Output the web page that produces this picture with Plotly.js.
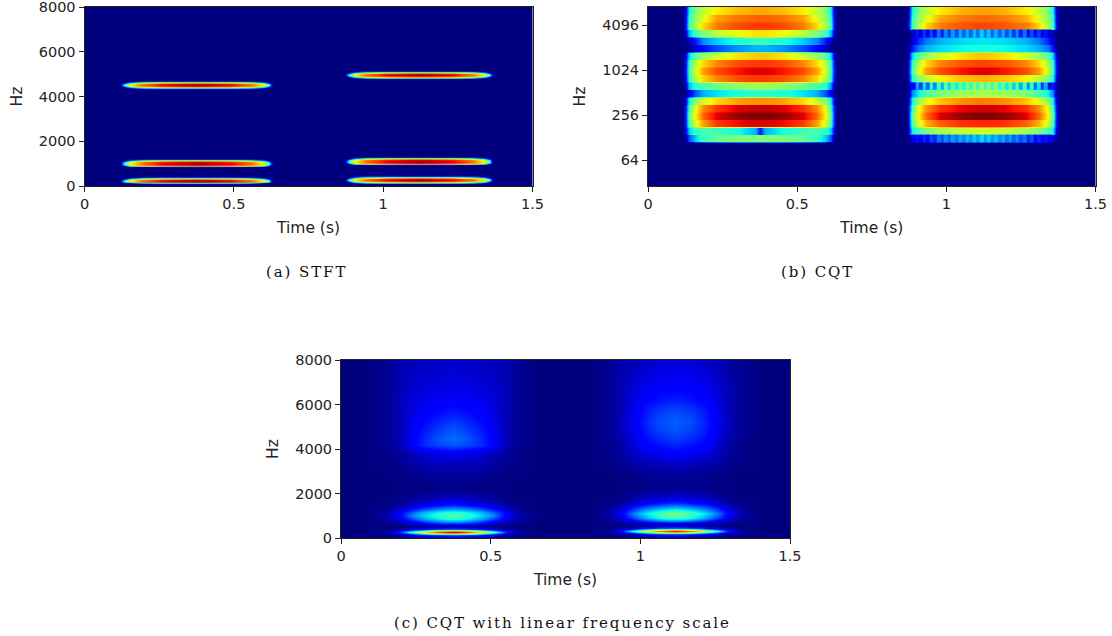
<!DOCTYPE html>
<html>
<head>
<meta charset="utf-8">
<script src="https://cdn.plot.ly/plotly-3.0.1.min.js"></script>
<style>
body { margin: 0; background: #fff; }
.annotation-text { letter-spacing: 1.9px; }
</style>
</head>
<body>
<div id="chart"></div>
<script>
// matplotlib jet, plotly's own Jet is a different ramp
var jet = [[0, '#00007f'], [0.11, '#0000ff'], [0.125, '#0000ff'], [0.35, 'rgb(0,230,247)'],
  [0.375, 'rgb(20,255,226)'], [0.64, 'rgb(238,255,8)'], [0.66, 'rgb(255,236,0)'],
  [0.89, 'rgb(255,19,0)'], [0.91, 'rgb(232,0,0)'], [1, '#7f0000']];

var mirror = function (r) { return r.concat(r.slice(0, -1).reverse()); };
var twice = function (rows) { var o = []; rows.forEach(function (r) { o.push(r, r); }); return o; };

var timeTicks = [0, 0.5, 1, 1.5];
var timeLabels = ['0', '0.5', '1', '1.5'];
var linearTicks = [0, 2000, 4000, 6000, 8000];
var logTicks = [64, 256, 1024, 4096];
var logLabels = ['64', '256', '1024', '4096'];

// (a) STFT, half a burst from the onset to the middle, rows from band edge to band peak
var stftTimeA = [0.118, 0.125, 0.133, 0.15, 0.19, 0.26, 0.375, 0.49, 0.56, 0.6, 0.617, 0.625, 0.632];
var stftTimeB = [0.87, 0.877, 0.885, 0.902, 0.94, 1.01, 1.12, 1.23, 1.30, 1.338, 1.355, 1.363, 1.37];
var stftHzA = [69, 89, 124, 164, 209, 254, 299, 344, 384, 419, 439,
  820, 840, 875, 915, 960, 1015, 1070, 1115, 1155, 1190, 1210,
  4323, 4343, 4378, 4418, 4463, 4508, 4553, 4598, 4638, 4673, 4693];
var stftHzB = [97, 117, 152, 192, 237, 282, 327, 372, 412, 447, 467,
  910, 930, 965, 1005, 1050, 1105, 1160, 1205, 1245, 1280, 1300,
  4770, 4790, 4825, 4865, 4910, 4955, 5000, 5045, 5085, 5120, 5140];
var s0 = mirror([0, 0, 0, 0, 0, 0, 0]);
var s1 = mirror([0, 0, 0, 0, 0.05, 0.11, 0.13]);
var s2 = mirror([0, 0, 0, 0.14, 0.32, 0.4, 0.42]);
var s3 = mirror([0, 0, 0.12, 0.38, 0.6, 0.7, 0.74]);
var s4 = mirror([0, 0.12, 0.36, 0.6, 0.77, 0.88, 0.93]);
var s5 = mirror([0, 0.2, 0.48, 0.66, 0.8, 0.92, 0.98]);
var stftLevels = [s0, s1, s2, s3, s4, s5, s4, s3, s2, s1, s0,
  s0, s1, s2, s3, s4, s5, s4, s3, s2, s1, s0,
  s0, s1, s2, s3, s4, s5, s4, s3, s2, s1, s0];

// (b) CQT, third-octave rows listed from the bottom up, each row held flat over its height
var cqtTimeA = [0.118, 0.128, 0.138, 0.155, 0.185, 0.23, 0.30, 0.36, 0.375, 0.39, 0.45, 0.52, 0.565, 0.595, 0.612, 0.622, 0.632];
var cqtTimeB = [0.866, 0.876, 0.886, 0.903, 0.933, 0.978, 1.048, 1.108, 1.12, 1.135, 1.195, 1.265, 1.31, 1.34, 1.357, 1.367, 1.377];
var cqtHz = [110, 114, 138, 143, 174, 181, 219, 227, 275, 287, 347, 361, 437, 455, 550, 572, 693,
  721, 874, 909, 1101, 1145, 1387, 1443, 1748, 1819, 2202, 2291, 2775, 2887, 3495,
  3636, 4404, 4582, 5549, 5773, 6991, 7200];
var cqtFloor = [0, 0, 0, 0, 0, 0, 0, 0, 0, 0, 0, 0, 0, 0, 0, 0, 0];
var cqtRowsA = [
  [0, 0.03, 0.2, 0.32, 0.42, 0.47, 0.5, 0.5, 0.5, 0.5, 0.5, 0.47, 0.42, 0.32, 0.2, 0.03, 0],
  [0, 0.12, 0.32, 0.42, 0.44, 0.42, 0.38, 0.3, 0.14, 0.3, 0.38, 0.42, 0.44, 0.42, 0.32, 0.12, 0],
  [0, 0.16, 0.44, 0.6, 0.74, 0.85, 0.9, 0.92, 0.92, 0.92, 0.9, 0.85, 0.74, 0.6, 0.44, 0.16, 0],
  [0, 0.17, 0.46, 0.64, 0.8, 0.92, 0.98, 1, 1, 1, 0.98, 0.92, 0.8, 0.64, 0.46, 0.17, 0],
  [0, 0.15, 0.42, 0.62, 0.76, 0.86, 0.92, 0.94, 0.94, 0.94, 0.92, 0.86, 0.76, 0.62, 0.42, 0.15, 0],
  [0, 0.1, 0.36, 0.5, 0.6, 0.68, 0.74, 0.76, 0.76, 0.76, 0.74, 0.68, 0.6, 0.5, 0.36, 0.1, 0],
  [0, 0, 0.08, 0.2, 0.3, 0.35, 0.39, 0.4, 0.4, 0.4, 0.39, 0.35, 0.3, 0.2, 0.1, 0.02, 0],
  [0, 0.06, 0.3, 0.4, 0.44, 0.48, 0.52, 0.54, 0.54, 0.54, 0.52, 0.48, 0.44, 0.4, 0.25, 0.05, 0],
  [0, 0.13, 0.4, 0.56, 0.68, 0.77, 0.83, 0.85, 0.85, 0.85, 0.83, 0.77, 0.68, 0.56, 0.4, 0.13, 0],
  [0, 0.15, 0.42, 0.6, 0.74, 0.83, 0.89, 0.92, 0.92, 0.92, 0.89, 0.83, 0.74, 0.6, 0.42, 0.15, 0],
  [0, 0.14, 0.4, 0.56, 0.68, 0.77, 0.83, 0.85, 0.85, 0.85, 0.83, 0.77, 0.68, 0.56, 0.4, 0.14, 0],
  [0, 0.1, 0.33, 0.46, 0.54, 0.61, 0.67, 0.7, 0.7, 0.7, 0.67, 0.61, 0.54, 0.46, 0.33, 0.1, 0],
  [0, 0, 0, 0.08, 0.13, 0.2, 0.27, 0.3, 0.3, 0.3, 0.27, 0.2, 0.13, 0.05, 0, 0, 0],
  [0, 0, 0.06, 0.14, 0.26, 0.33, 0.39, 0.42, 0.42, 0.42, 0.39, 0.33, 0.26, 0.14, 0.06, 0, 0],
  [0, 0.08, 0.3, 0.42, 0.5, 0.58, 0.64, 0.67, 0.67, 0.67, 0.64, 0.58, 0.5, 0.42, 0.3, 0.08, 0],
  [0, 0.14, 0.42, 0.55, 0.68, 0.78, 0.83, 0.85, 0.85, 0.85, 0.83, 0.78, 0.68, 0.55, 0.42, 0.14, 0],
  [0, 0.12, 0.4, 0.52, 0.62, 0.74, 0.79, 0.81, 0.81, 0.81, 0.79, 0.74, 0.62, 0.52, 0.4, 0.12, 0],
  [0, 0.1, 0.36, 0.5, 0.58, 0.66, 0.71, 0.73, 0.73, 0.73, 0.71, 0.66, 0.58, 0.5, 0.36, 0.1, 0]
];
var cqtRowsB = [
  [0, 0.02, 0.08, 0.12, 0.15, 0.18, 0.2, 0.2, 0.2, 0.2, 0.2, 0.18, 0.15, 0.12, 0.08, 0.02, 0],
  [0, 0.12, 0.36, 0.44, 0.5, 0.55, 0.59, 0.6, 0.6, 0.6, 0.59, 0.55, 0.5, 0.44, 0.36, 0.12, 0],
  [0, 0.16, 0.44, 0.6, 0.72, 0.81, 0.86, 0.87, 0.87, 0.87, 0.86, 0.81, 0.72, 0.6, 0.44, 0.16, 0],
  [0, 0.17, 0.46, 0.64, 0.8, 0.92, 0.98, 1, 1, 1, 0.98, 0.92, 0.8, 0.64, 0.46, 0.17, 0],
  [0, 0.15, 0.42, 0.62, 0.76, 0.86, 0.91, 0.93, 0.93, 0.93, 0.91, 0.86, 0.76, 0.62, 0.42, 0.15, 0],
  [0, 0.1, 0.36, 0.52, 0.62, 0.7, 0.76, 0.78, 0.78, 0.78, 0.76, 0.7, 0.62, 0.52, 0.36, 0.1, 0],
  [0, 0.05, 0.25, 0.36, 0.44, 0.5, 0.54, 0.55, 0.55, 0.55, 0.54, 0.5, 0.44, 0.36, 0.25, 0.05, 0],
  [0, 0.04, 0.14, 0.24, 0.32, 0.38, 0.43, 0.45, 0.45, 0.45, 0.43, 0.38, 0.32, 0.24, 0.14, 0.04, 0],
  [0, 0.12, 0.38, 0.5, 0.58, 0.65, 0.7, 0.72, 0.72, 0.72, 0.7, 0.65, 0.58, 0.5, 0.38, 0.12, 0],
  [0, 0.15, 0.42, 0.6, 0.74, 0.83, 0.89, 0.92, 0.92, 0.92, 0.89, 0.83, 0.74, 0.6, 0.42, 0.15, 0],
  [0, 0.14, 0.4, 0.56, 0.68, 0.77, 0.82, 0.84, 0.84, 0.84, 0.82, 0.77, 0.68, 0.56, 0.4, 0.14, 0],
  [0, 0.1, 0.33, 0.46, 0.54, 0.61, 0.67, 0.7, 0.7, 0.7, 0.67, 0.61, 0.54, 0.46, 0.33, 0.1, 0],
  [0, 0.03, 0.14, 0.24, 0.3, 0.34, 0.37, 0.38, 0.38, 0.38, 0.37, 0.34, 0.3, 0.24, 0.14, 0.03, 0],
  [0, 0, 0.06, 0.16, 0.24, 0.3, 0.34, 0.35, 0.35, 0.35, 0.34, 0.3, 0.24, 0.16, 0.06, 0, 0],
  [0, 0, 0.05, 0.12, 0.18, 0.22, 0.24, 0.25, 0.25, 0.25, 0.24, 0.22, 0.18, 0.12, 0.05, 0, 0],
  [0, 0.14, 0.42, 0.55, 0.68, 0.78, 0.82, 0.84, 0.84, 0.84, 0.82, 0.78, 0.68, 0.55, 0.42, 0.14, 0],
  [0, 0.12, 0.4, 0.52, 0.62, 0.73, 0.78, 0.8, 0.8, 0.8, 0.78, 0.73, 0.62, 0.52, 0.4, 0.12, 0],
  [0, 0.1, 0.36, 0.5, 0.58, 0.66, 0.72, 0.74, 0.74, 0.74, 0.72, 0.66, 0.58, 0.5, 0.36, 0.1, 0]
];
// the striped rows of the second burst
var rippleTime = [0.89, 0.902, 0.914, 0.926, 0.938, 0.95, 0.962, 0.974, 0.986, 0.998, 1.01, 1.022, 1.034,
  1.046, 1.058, 1.07, 1.082, 1.094, 1.106, 1.118, 1.13, 1.142, 1.154, 1.166, 1.178, 1.19, 1.202,
  1.214, 1.226, 1.238, 1.25, 1.262, 1.274, 1.286, 1.298, 1.31, 1.322, 1.334, 1.346];
var rippleHz = [111.5, 140.5, 561, 707, 2830, 3565];
var ripple18 = [0.1, 0.14, 0.11, 0.16, 0.13, 0.2, 0.16, 0.24, 0.2, 0.26, 0.22, 0.28, 0.24, 0.3, 0.26, 0.31, 0.27, 0.33, 0.28, 0.34,
  0.28, 0.33, 0.27, 0.31, 0.26, 0.3, 0.24, 0.28, 0.22, 0.26, 0.2, 0.24, 0.16, 0.2, 0.13, 0.16, 0.11, 0.14, 0.1];
var ripple11 = [0.12, 0.3, 0.18, 0.35, 0.22, 0.4, 0.26, 0.44, 0.3, 0.46, 0.34, 0.48, 0.36, 0.5, 0.38, 0.52, 0.4, 0.53, 0.42, 0.54,
  0.42, 0.53, 0.4, 0.52, 0.38, 0.5, 0.36, 0.48, 0.34, 0.46, 0.3, 0.44, 0.26, 0.4, 0.22, 0.35, 0.18, 0.3, 0.12];
var ripple4 = [0.06, 0.14, 0.08, 0.18, 0.1, 0.2, 0.12, 0.24, 0.15, 0.26, 0.18, 0.28, 0.2, 0.3, 0.22, 0.3, 0.22, 0.32, 0.24, 0.33,
  0.24, 0.32, 0.22, 0.3, 0.22, 0.3, 0.2, 0.28, 0.18, 0.26, 0.15, 0.24, 0.12, 0.2, 0.1, 0.18, 0.08, 0.14, 0.06];
var rippleGap = rippleTime.map(function () { return null; });

// (c) CQT on a linear axis, half a burst from the left edge to the middle
var linTimeA = [0.09, 0.16, 0.2, 0.24, 0.28, 0.32, 0.35, 0.375, 0.4, 0.43, 0.47, 0.51, 0.55, 0.59, 0.66];
var linTimeB = [0.832, 0.902, 0.942, 0.982, 1.022, 1.062, 1.092, 1.117, 1.142, 1.172, 1.212, 1.252, 1.292, 1.332, 1.402];
var linHzA = [0, 50, 120, 170, 215, 270, 325, 370, 420, 480, 560, 700, 850, 1000, 1060, 1150, 1300, 1500, 1750, 2200,
  2800, 3300, 3800, 4050, 4200, 4500, 5000, 5500, 6000, 6600, 7300, 8000];
var linHalfA = [
  [0, 0, 0, 0, 0, 0, 0, 0],
  [0, 0, 0.01, 0.03, 0.05, 0.07, 0.08, 0.08],
  [0, 0.01, 0.03, 0.08, 0.14, 0.19, 0.21, 0.22],
  [0, 0.015, 0.07, 0.18, 0.32, 0.42, 0.46, 0.48],
  [0, 0.03, 0.13, 0.34, 0.54, 0.68, 0.74, 0.77],
  [0, 0.04, 0.17, 0.44, 0.66, 0.82, 0.89, 0.93],
  [0, 0.03, 0.13, 0.34, 0.54, 0.68, 0.74, 0.77],
  [0, 0.015, 0.07, 0.18, 0.32, 0.42, 0.46, 0.48],
  [0, 0.01, 0.03, 0.08, 0.14, 0.19, 0.21, 0.22],
  [0, 0, 0.01, 0.03, 0.05, 0.07, 0.08, 0.08],
  [0, 0, 0, 0.01, 0.02, 0.03, 0.03, 0.03],
  [0, 0.015, 0.05, 0.1, 0.17, 0.22, 0.25, 0.25],
  [0, 0.03, 0.1, 0.19, 0.28, 0.34, 0.37, 0.38],
  [0, 0.04, 0.12, 0.25, 0.33, 0.39, 0.42, 0.44],
  [0, 0.04, 0.12, 0.25, 0.33, 0.39, 0.42, 0.44],
  [0, 0.035, 0.11, 0.21, 0.3, 0.35, 0.38, 0.39],
  [0, 0.02, 0.07, 0.14, 0.2, 0.25, 0.27, 0.28],
  [0, 0.01, 0.03, 0.07, 0.1, 0.13, 0.15, 0.16],
  [0, 0, 0.01, 0.025, 0.04, 0.055, 0.065, 0.07],
  [0, 0, 0, 0, 0.005, 0.005, 0.01, 0.01],
  [0, 0, 0.005, 0.01, 0.015, 0.02, 0.02, 0.02],
  [0, 0.005, 0.015, 0.03, 0.04, 0.05, 0.05, 0.05],
  [0, 0.01, 0.03, 0.05, 0.08, 0.09, 0.1, 0.1],
  [0, 0.01, 0.04, 0.09, 0.13, 0.15, 0.16, 0.17],
  [0, 0.02, 0.05, 0.11, 0.17, 0.19, 0.2, 0.21],
  [0, 0.02, 0.05, 0.11, 0.16, 0.2, 0.22, 0.23],
  [0, 0.02, 0.05, 0.1, 0.14, 0.17, 0.19, 0.2],
  [0, 0.02, 0.05, 0.09, 0.12, 0.14, 0.15, 0.16],
  [0, 0.02, 0.05, 0.08, 0.1, 0.11, 0.12, 0.125],
  [0, 0.02, 0.05, 0.07, 0.08, 0.09, 0.09, 0.095],
  [0, 0.02, 0.04, 0.06, 0.065, 0.07, 0.075, 0.08],
  [0, 0.02, 0.04, 0.05, 0.06, 0.06, 0.065, 0.07]
];
var linHzB = [0, 100, 160, 210, 255, 310, 365, 410, 460, 520, 620, 760, 900, 1060, 1137, 1230, 1380, 1580, 1830, 2300,
  2900, 3400, 3800, 4200, 4700, 5200, 5700, 6200, 6800, 7400, 8000];
var linHalfB = [
  [0, 0, 0, 0, 0, 0, 0, 0],
  [0, 0, 0.01, 0.03, 0.05, 0.08, 0.09, 0.09],
  [0, 0.01, 0.03, 0.08, 0.14, 0.19, 0.21, 0.22],
  [0, 0.015, 0.07, 0.17, 0.3, 0.4, 0.44, 0.46],
  [0, 0.03, 0.12, 0.32, 0.5, 0.64, 0.7, 0.73],
  [0, 0.04, 0.16, 0.42, 0.62, 0.78, 0.85, 0.89],
  [0, 0.03, 0.12, 0.32, 0.5, 0.64, 0.7, 0.73],
  [0, 0.015, 0.07, 0.17, 0.3, 0.4, 0.44, 0.46],
  [0, 0.01, 0.03, 0.08, 0.14, 0.19, 0.21, 0.22],
  [0, 0, 0.01, 0.03, 0.05, 0.08, 0.09, 0.09],
  [0, 0, 0, 0.01, 0.02, 0.03, 0.03, 0.04],
  [0, 0.015, 0.05, 0.1, 0.17, 0.22, 0.25, 0.26],
  [0, 0.03, 0.1, 0.2, 0.3, 0.37, 0.41, 0.42],
  [0, 0.04, 0.12, 0.26, 0.35, 0.42, 0.46, 0.48],
  [0, 0.04, 0.12, 0.26, 0.35, 0.42, 0.47, 0.49],
  [0, 0.035, 0.11, 0.22, 0.31, 0.37, 0.4, 0.42],
  [0, 0.02, 0.07, 0.15, 0.21, 0.25, 0.28, 0.29],
  [0, 0.01, 0.03, 0.08, 0.11, 0.14, 0.16, 0.17],
  [0, 0, 0.01, 0.03, 0.05, 0.06, 0.07, 0.075],
  [0, 0, 0, 0, 0.005, 0.01, 0.01, 0.01],
  [0, 0, 0.005, 0.01, 0.02, 0.02, 0.025, 0.025],
  [0, 0.005, 0.02, 0.04, 0.05, 0.06, 0.065, 0.07],
  [0, 0.01, 0.03, 0.06, 0.09, 0.1, 0.11, 0.115],
  [0, 0.01, 0.04, 0.08, 0.12, 0.14, 0.15, 0.16],
  [0, 0.02, 0.05, 0.1, 0.15, 0.18, 0.19, 0.2],
  [0, 0.02, 0.06, 0.11, 0.16, 0.2, 0.21, 0.22],
  [0, 0.02, 0.05, 0.1, 0.15, 0.18, 0.19, 0.2],
  [0, 0.02, 0.05, 0.09, 0.12, 0.14, 0.15, 0.15],
  [0, 0.02, 0.05, 0.08, 0.1, 0.11, 0.115, 0.12],
  [0, 0.02, 0.04, 0.06, 0.08, 0.09, 0.09, 0.095],
  [0, 0.02, 0.04, 0.05, 0.06, 0.07, 0.075, 0.08]
];

function heat(x, y, z, xa, ya, smooth) {
  return {
    type: 'heatmap', x: x, y: y, z: z, xaxis: xa, yaxis: ya,
    colorscale: jet, zmin: 0, zmax: 1, showscale: false, zsmooth: smooth, hoverongaps: false
  };
}

var data = [
  heat(stftTimeA, stftHzA, stftLevels, 'x', 'y', 'best'),
  heat(stftTimeB, stftHzB, stftLevels, 'x', 'y', 'best'),
  heat(cqtTimeA, cqtHz, [cqtFloor].concat(twice(cqtRowsA), [cqtRowsA[17]]), 'x2', 'y2', 'best'),
  heat(cqtTimeB, cqtHz, [cqtFloor].concat(twice(cqtRowsB), [cqtRowsB[17]]), 'x2', 'y2', 'best'),
  heat(rippleTime, rippleHz, [ripple18, rippleGap, ripple11, rippleGap, ripple4], 'x2', 'y2', false),
  heat(linTimeA, linHzA, linHalfA.map(mirror), 'x3', 'y3', 'best'),
  heat(linTimeB, linHzB, linHalfB.map(mirror), 'x3', 'y3', 'best')
];

var W = 1112, H = 636;
var tickFont = { family: 'DejaVu Sans', size: 14.5, color: '#222' };
var titleFont = { family: 'DejaVu Sans', size: 15.5, color: '#222' };

function xAxis(left, right, anchor) {
  return {
    domain: [left / W, right / W], anchor: anchor, range: [0, 1.5],
    tickvals: timeTicks, ticktext: timeLabels, ticks: 'outside', ticklen: 5, tickcolor: '#222',
    tickfont: tickFont, ticklabeloverflow: 'allow', showgrid: false, zeroline: false, showline: true, mirror: true,
    linecolor: '#222', linewidth: 1,
    title: { text: 'Time (s)', font: titleFont, standoff: 10 }
  };
}
function yAxis(top, bottom, anchor) {
  return {
    domain: [1 - bottom / H, 1 - top / H], anchor: anchor, range: [0, 8000],
    tickvals: linearTicks, ticks: 'outside', ticklen: 5, tickcolor: '#222',
    tickfont: tickFont, ticklabeloverflow: 'allow', showgrid: false, zeroline: false, showline: true, mirror: true,
    linecolor: '#222', linewidth: 1,
    title: { text: 'Hz', font: titleFont, standoff: 12 }
  };
}

var logAxis = yAxis(7, 186, 'x2');
logAxis.type = 'log';
logAxis.range = [1.462, 3.853];
logAxis.tickvals = logTicks;
logAxis.ticktext = logLabels;

var captionFont = { family: 'DejaVu Serif', size: 15, color: '#111' };
function caption(text, px, py) {
  return { text: text, x: px / W, y: 1 - py / H, xref: 'paper', yref: 'paper', xanchor: 'center', yanchor: 'middle', showarrow: false, font: captionFont };
}

var layout = {
  width: W, height: H,
  margin: { l: 0, r: 0, t: 0, b: 0 },
  paper_bgcolor: '#fff', plot_bgcolor: '#00007f',
  showlegend: false,
  xaxis: xAxis(84.5, 532.5, 'y'), yaxis: yAxis(7, 186, 'x'),
  xaxis2: xAxis(648, 1095.5, 'y2'), yaxis2: logAxis,
  xaxis3: xAxis(341, 790, 'y3'), yaxis3: yAxis(360, 538, 'x3'),
  annotations: [
    caption('(a) STFT', 306, 272),
    caption('(b) CQT', 817, 272),
    caption('(c) CQT with linear frequency scale', 562, 623)
  ]
};

Plotly.newPlot('chart', data, layout, { displayModeBar: false, staticPlot: true });
</script>
</body>
</html>
